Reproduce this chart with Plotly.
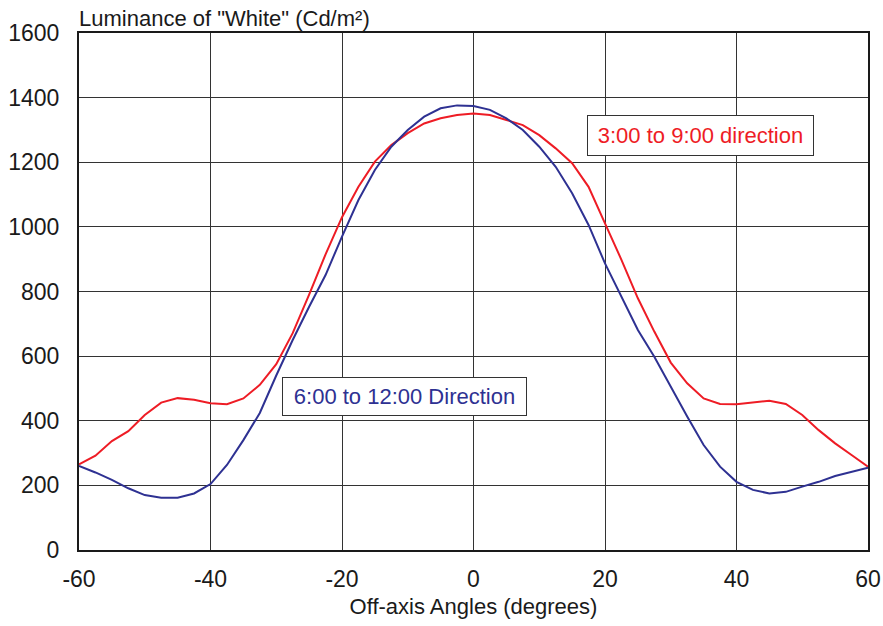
import plotly.graph_objects as go

angles = [-60 + 2.5 * i for i in range(49)]

red_3_9 = [265, 292, 337, 368, 418, 456, 470, 465, 454, 451, 469, 511, 575,
           671, 790, 915, 1030, 1124, 1202, 1253, 1290, 1320, 1336, 1346, 1351,
           1346, 1331, 1315, 1284, 1243, 1197, 1124, 1011, 898, 779, 676, 580,
           516, 469, 452, 451, 457, 462, 452, 418, 371, 330, 294, 258]

blue_6_12 = [260, 240, 217, 191, 170, 162, 162, 175, 204, 263, 340, 424, 540,
             650, 753, 851, 970, 1083, 1176, 1248, 1300, 1341, 1367, 1376, 1374,
             1362, 1336, 1300, 1248, 1186, 1104, 1006, 887, 784, 681, 598, 505,
             413, 325, 258, 211, 186, 175, 180, 196, 211, 229, 242, 255]

x_ticks = [-60, -40, -20, 0, 20, 40, 60]
y_ticks = [0, 200, 400, 600, 800, 1000, 1200, 1400, 1600]

RED = "#ee1c25"
BLUE = "#2e3192"
FONT = "Liberation Sans, Arial, sans-serif"
TXT = "#1a1a1a"

fig = go.Figure()
fig.add_trace(go.Scatter(x=angles, y=red_3_9, mode="lines",
                         line=dict(color=RED, width=2), name="3:00 to 9:00 direction"))
fig.add_trace(go.Scatter(x=angles, y=blue_6_12, mode="lines",
                         line=dict(color=BLUE, width=2), name="6:00 to 12:00 Direction"))

fig.update_layout(
    width=883, height=626,
    margin=dict(l=79, r=15, t=33, b=76, autoexpand=False),
    paper_bgcolor="white", plot_bgcolor="white",
    showlegend=False,
    font=dict(family=FONT, color=TXT),
)

fig.update_xaxes(
    range=[-60, 60], tickvals=x_ticks, ticktext=[str(v) for v in x_ticks],
    showgrid=True, gridcolor="#333333", gridwidth=1,
    showline=True, linecolor=TXT, linewidth=2, mirror=True,
    zeroline=False, ticks="", ticklabelstandoff=7,
    tickfont=dict(size=23, family=FONT, color=TXT),
    title=dict(text="Off-axis Angles (degrees)", font=dict(size=22, family=FONT, color=TXT),
               standoff=8),
)
fig.update_yaxes(
    range=[0, 1600], tickvals=y_ticks, ticktext=[str(v) for v in y_ticks],
    showgrid=True, gridcolor="#333333", gridwidth=1,
    showline=True, linecolor=TXT, linewidth=2, mirror=True,
    zeroline=False, ticks="", ticklabelstandoff=13,
    tickfont=dict(size=23, family=FONT, color=TXT),
)

fig.add_annotation(
    text='Luminance of "White" (Cd/m²)', xref="paper", yref="paper",
    x=0, y=1, xanchor="left", yanchor="bottom", xshift=-2, yshift=0, showarrow=False,
    font=dict(size=22, family=FONT, color=TXT),
)
fig.add_annotation(
    text="3:00 to 9:00 direction", xref="x", yref="y",
    x=34.45, y=1283, xanchor="center", yanchor="middle", showarrow=False,
    font=dict(size=22, family=FONT, color=RED),
    width=213, height=27, borderpad=6,
    bgcolor="white", bordercolor="#333333", borderwidth=1,
)
fig.add_annotation(
    text="6:00 to 12:00 Direction", xref="x", yref="y",
    x=-10.57, y=476, xanchor="center", yanchor="middle", showarrow=False,
    font=dict(size=22, family=FONT, color=BLUE),
    width=231, height=25, borderpad=6,
    bgcolor="white", bordercolor="#333333", borderwidth=1,
)

fig.write_html(
    "out.html",
    config={"displayModeBar": False},
    post_script="document.body.style.margin='0px';document.body.style.overflow='hidden';",
)
